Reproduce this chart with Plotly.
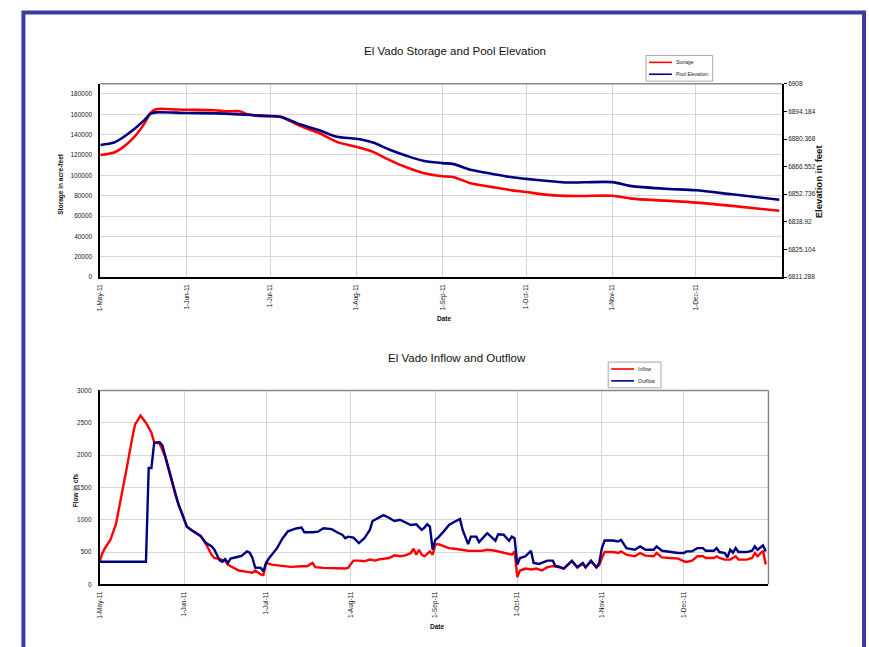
import plotly.graph_objects as go

# ---------------- data: top chart ----------------
storage_dates = ["2011-05-01", "2011-05-06", "2011-05-09", "2011-05-13", "2011-05-17", "2011-05-19",
                 "2011-05-21", "2011-05-26", "2011-06-01", "2011-06-11", "2011-06-15", "2011-06-20",
                 "2011-06-23", "2011-06-27", "2011-07-01", "2011-07-05", "2011-07-12", "2011-07-19",
                 "2011-07-25", "2011-08-01", "2011-08-07", "2011-08-13", "2011-08-19", "2011-08-25",
                 "2011-09-01", "2011-09-05", "2011-09-11", "2011-09-19", "2011-09-26", "2011-10-01",
                 "2011-10-07", "2011-10-15", "2011-10-22", "2011-11-01", "2011-11-08", "2011-11-20",
                 "2011-12-01", "2011-12-14", "2011-12-31"]
storage_af = [120000, 122500, 127300, 137000, 151600, 161300,
              165000, 165000, 164500, 164000, 163000, 163000,
              160000, 158500, 158500, 157500, 148400, 141200,
              132900, 128000, 123100, 115000, 107900, 102300,
              99100, 98200, 92300, 88400, 85200, 83600,
              81300, 79800, 79700, 79900, 77100, 75100,
              73200, 70000, 65100]

elev_dates = ["2011-05-01", "2011-05-06", "2011-05-09", "2011-05-13", "2011-05-17", "2011-05-19",
              "2011-05-21", "2011-06-01", "2011-06-15", "2011-06-22", "2011-06-27", "2011-07-01",
              "2011-07-05", "2011-07-12", "2011-07-19", "2011-07-25", "2011-08-01", "2011-08-07",
              "2011-08-13", "2011-08-19", "2011-08-25", "2011-09-01", "2011-09-05", "2011-09-11",
              "2011-09-19", "2011-09-26", "2011-10-01", "2011-10-07", "2011-10-15", "2011-10-22",
              "2011-11-01", "2011-11-08", "2011-11-20", "2011-12-01", "2011-12-14", "2011-12-31"]
elev_ft = [6877.4, 6878.6, 6881.0, 6885.1, 6890.1, 6892.9,
           6893.7, 6893.4, 6893.1, 6892.6, 6892.1, 6891.8,
           6891.4, 6887.6, 6884.6, 6881.5, 6880.5, 6878.6,
           6875.0, 6872.0, 6869.5, 6868.3, 6867.8, 6865.0,
           6862.9, 6861.2, 6860.4, 6859.6, 6858.6, 6858.7,
           6858.8, 6856.8, 6855.5, 6854.7, 6852.7, 6850.0]

# ---------------- data: bottom chart ----------------
outflow_dates = ["2011-05-01", "2011-05-18", "2011-05-19", "2011-05-20", "2011-05-21", "2011-05-23",
                 "2011-05-24", "2011-05-25", "2011-05-27", "2011-05-29", "2011-05-30", "2011-05-31",
                 "2011-06-02", "2011-06-04", "2011-06-07", "2011-06-09", "2011-06-11", "2011-06-12",
                 "2011-06-14", "2011-06-15", "2011-06-16", "2011-06-17", "2011-06-18", "2011-06-20",
                 "2011-06-22", "2011-06-24", "2011-06-25", "2011-06-26", "2011-06-27", "2011-06-29",
                 "2011-06-30", "2011-07-01", "2011-07-02", "2011-07-05", "2011-07-07", "2011-07-09",
                 "2011-07-12", "2011-07-14", "2011-07-15", "2011-07-18", "2011-07-20", "2011-07-22",
                 "2011-07-25", "2011-07-27", "2011-07-29", "2011-07-30", "2011-07-31", "2011-08-02",
                 "2011-08-04", "2011-08-06", "2011-08-08", "2011-08-09", "2011-08-11", "2011-08-13",
                 "2011-08-15", "2011-08-17", "2011-08-19", "2011-08-21", "2011-08-23", "2011-08-25",
                 "2011-08-27", "2011-08-28", "2011-08-29", "2011-08-30", "2011-08-31", "2011-09-01",
                 "2011-09-02", "2011-09-04", "2011-09-06", "2011-09-08", "2011-09-10", "2011-09-11",
                 "2011-09-13", "2011-09-14", "2011-09-16", "2011-09-17", "2011-09-20", "2011-09-23",
                 "2011-09-24", "2011-09-26", "2011-09-28", "2011-09-29", "2011-09-30", "2011-10-01",
                 "2011-10-02", "2011-10-04", "2011-10-06", "2011-10-07", "2011-10-09", "2011-10-12",
                 "2011-10-14", "2011-10-15", "2011-10-18", "2011-10-21", "2011-10-23", "2011-10-25",
                 "2011-10-26", "2011-10-28", "2011-10-30", "2011-10-31", "2011-11-01", "2011-11-02",
                 "2011-11-05", "2011-11-07", "2011-11-08", "2011-11-10", "2011-11-13", "2011-11-15",
                 "2011-11-17", "2011-11-20", "2011-11-21", "2011-11-23", "2011-11-26", "2011-11-29",
                 "2011-12-01", "2011-12-02", "2011-12-04", "2011-12-06", "2011-12-08", "2011-12-09",
                 "2011-12-12", "2011-12-13", "2011-12-14", "2011-12-16", "2011-12-17", "2011-12-18",
                 "2011-12-19", "2011-12-20", "2011-12-21", "2011-12-24", "2011-12-26", "2011-12-27",
                 "2011-12-28", "2011-12-30", "2011-12-31"]
outflow_cfs = [350, 350, 1800, 1800, 2190, 2200,
               2150, 1990, 1680, 1350, 1220, 1120,
               890, 830, 750, 640, 590, 540,
               370, 350, 390, 330, 400, 420,
               440, 510, 490, 410, 260, 255,
               205, 330, 400, 560, 710, 820,
               865, 878, 806, 806, 815, 867,
               855, 806, 765, 714, 738, 723,
               638, 714, 842, 980, 1020, 1071,
               1030, 980, 1000, 960, 918, 929,
               842, 878, 929, 893, 536, 690,
               723, 816, 918, 969, 1010, 842,
               623, 738, 738, 653, 791, 674,
               776, 768, 674, 738, 714, 306,
               408, 434, 520, 332, 316, 367,
               367, 281, 245, 367, 266, 332,
               266, 367, 266, 332, 561, 679,
               679, 663, 689, 561, 536, 587,
               536, 536, 587, 520, 500, 485,
               485, 510, 510, 561, 561, 520,
               520, 561, 500, 485, 418, 536,
               490, 561, 500, 500, 520, 587,
               536, 602, 510]

inflow_dates = ["2011-05-01", "2011-05-02", "2011-05-03", "2011-05-05", "2011-05-07", "2011-05-09",
                "2011-05-11", "2011-05-13", "2011-05-14", "2011-05-15", "2011-05-16", "2011-05-18",
                "2011-05-20", "2011-05-21", "2011-05-23", "2011-05-25", "2011-05-27", "2011-05-29",
                "2011-05-31", "2011-06-02", "2011-06-04", "2011-06-07", "2011-06-09", "2011-06-11",
                "2011-06-12", "2011-06-14", "2011-06-16", "2011-06-17", "2011-06-18", "2011-06-21",
                "2011-06-24", "2011-06-26", "2011-06-27", "2011-06-29", "2011-06-30", "2011-07-01",
                "2011-07-03", "2011-07-05", "2011-07-07", "2011-07-10", "2011-07-14", "2011-07-16",
                "2011-07-18", "2011-07-19", "2011-07-22", "2011-07-27", "2011-07-30", "2011-07-31",
                "2011-08-02", "2011-08-04", "2011-08-06", "2011-08-08", "2011-08-10", "2011-08-11",
                "2011-08-13", "2011-08-15", "2011-08-17", "2011-08-19", "2011-08-21", "2011-08-23",
                "2011-08-24", "2011-08-25", "2011-08-26", "2011-08-27", "2011-08-28", "2011-08-30",
                "2011-08-31", "2011-09-01", "2011-09-02", "2011-09-04", "2011-09-06", "2011-09-08",
                "2011-09-10", "2011-09-13", "2011-09-18", "2011-09-20", "2011-09-23", "2011-09-24",
                "2011-09-26", "2011-09-28", "2011-09-29", "2011-09-30", "2011-10-01", "2011-10-02",
                "2011-10-04", "2011-10-06", "2011-10-08", "2011-10-10", "2011-10-12", "2011-10-14",
                "2011-10-16", "2011-10-18", "2011-10-21", "2011-10-23", "2011-10-25", "2011-10-26",
                "2011-10-28", "2011-10-30", "2011-10-31", "2011-11-01", "2011-11-02", "2011-11-05",
                "2011-11-07", "2011-11-08", "2011-11-10", "2011-11-13", "2011-11-15", "2011-11-17",
                "2011-11-20", "2011-11-21", "2011-11-23", "2011-11-26", "2011-11-29", "2011-12-01",
                "2011-12-02", "2011-12-04", "2011-12-06", "2011-12-08", "2011-12-09", "2011-12-12",
                "2011-12-13", "2011-12-14", "2011-12-16", "2011-12-18", "2011-12-20", "2011-12-21",
                "2011-12-24", "2011-12-26", "2011-12-27", "2011-12-28", "2011-12-30", "2011-12-31"]
inflow_cfs = [350, 480, 560, 690, 930, 1400,
              1810, 2270, 2475, 2540, 2610, 2500,
              2347, 2200, 2180, 1980, 1680, 1350,
              1120, 890, 830, 750, 620, 459,
              408, 393, 363, 306, 281, 214,
              194, 179, 214, 153, 143, 332,
              306, 297, 281, 271, 281, 281,
              332, 266, 255, 245, 245, 255,
              367, 367, 357, 383, 367, 383,
              398, 408, 449, 434, 449, 485,
              551, 459, 535, 459, 434, 510,
              459, 612, 623, 587, 561, 551,
              535, 520, 518, 535, 520, 510,
              500, 479, 459, 510, 112, 214,
              245, 230, 245, 214, 266, 281,
              281, 240, 355, 260, 320, 260,
              355, 260, 300, 408, 500, 500,
              485, 510, 459, 434, 485, 444,
              434, 485, 418, 408, 398, 357,
              347, 367, 434, 434, 408, 408,
              434, 408, 383, 383, 434, 383,
              383, 408, 485, 434, 520, 306]

month_ticks = ["2011-05-01", "2011-06-01", "2011-07-01", "2011-08-01",
               "2011-09-01", "2011-10-01", "2011-11-01", "2011-12-01"]
month_labels = ["1-May-11", "1-Jun-11", "1-Jul-11", "1-Aug-11",
                "1-Sep-11", "1-Oct-11", "1-Nov-11", "1-Dec-11"]
storage_ticks = [0, 20000, 40000, 60000, 80000, 100000, 120000, 140000, 160000, 180000]
elev_ticks = [6811.288, 6825.104, 6838.92, 6852.736, 6866.552, 6880.368, 6894.184, 6908]
elev_labels = ["6811.288", "6825.104", "6838.92", "6852.736", "6866.552", "6880.368", "6894.184", "6908"]
flow_ticks = [0, 500, 1000, 1500, 2000, 2500, 3000]

# ---------------- figure ----------------
W, H = 869, 647
FONT = "Liberation Sans"
RED = "#ff0000"
NAVY = "#000080"
GRID = "#d6d6d6"

def px(x):
    return x / W

def py(y):
    return 1 - y / H

fig = go.Figure()

fig.add_trace(go.Scatter(x=storage_dates, y=storage_af, name="Storage", mode="lines",
                         line=dict(color=RED, width=2.6, shape="spline", smoothing=0.8),
                         xaxis="x", yaxis="y"))
fig.add_trace(go.Scatter(x=elev_dates, y=elev_ft, name="Pool Elevation", mode="lines",
                         line=dict(color=NAVY, width=2.6, shape="spline", smoothing=0.8),
                         xaxis="x", yaxis="y2"))
fig.add_trace(go.Scatter(x=inflow_dates, y=inflow_cfs, name="Inflow", mode="lines",
                         line=dict(color=RED, width=2.4),
                         xaxis="x2", yaxis="y3"))
fig.add_trace(go.Scatter(x=outflow_dates, y=outflow_cfs, name="Outflow", mode="lines",
                         line=dict(color=NAVY, width=2.4),
                         xaxis="x2", yaxis="y3"))

tickfont = dict(family=FONT, size=6.5, color="#222")
xcommon = dict(type="date", range=["2011-05-01", "2012-01-01"], tickvals=month_ticks,
               ticktext=month_labels, tickangle=-90, tickfont=tickfont,
               showgrid=True, gridcolor=GRID, gridwidth=1, showline=True,
               linecolor="black", linewidth=1.5, ticks="", zeroline=False,
               ticklabelstandoff=3)

fig.update_layout(
    width=W, height=H,
    margin=dict(l=0, r=0, t=0, b=0),
    paper_bgcolor="white", plot_bgcolor="white",
    font=dict(family=FONT, color="#222"),
    showlegend=False,
    xaxis=dict(xcommon, domain=[px(96.7), px(781.7)], anchor="y"),
    yaxis=dict(domain=[py(276), py(80.7)], range=[0, 190000], tickvals=storage_ticks,
               tickformat="d", tickfont=tickfont, showgrid=True, gridcolor=GRID, showline=True,
               linecolor="black", linewidth=1.5, zeroline=False, anchor="x",
               ticklabelstandoff=5),
    yaxis2=dict(overlaying="y", side="right", range=[6811.288, 6908], tickvals=elev_ticks,
                ticktext=elev_labels, tickfont=tickfont, showgrid=False, showline=True,
                linecolor="black", linewidth=1.5, ticks="outside", ticklen=3,
                tickcolor="black", zeroline=False, anchor="x"),
    xaxis2=dict(xcommon, domain=[px(96), px(768)], anchor="y3"),
    yaxis3=dict(domain=[py(586.7), py(390.7)], range=[0, 3000], tickvals=flow_ticks,
                tickformat="d", tickfont=tickfont, showgrid=True, gridcolor=GRID, showline=True,
                linecolor="black", linewidth=1.5, zeroline=False, anchor="x2",
                ticklabelstandoff=5),
)

shapes = []
# plot-area borders (grey top / right edges)
shapes.append(dict(type="line", xref="x domain", yref="y domain", x0=0, x1=1, y0=1, y1=1,
                   line=dict(color="#888888", width=1.5)))
shapes.append(dict(type="line", xref="x2 domain", yref="y3 domain", x0=0, x1=1, y0=1, y1=1,
                   line=dict(color="#888888", width=1.5)))
shapes.append(dict(type="line", xref="x2 domain", yref="y3 domain", x0=1, x1=1, y0=0, y1=1,
                   line=dict(color="#888888", width=1.5)))
# page frame
shapes.append(dict(type="rect", xref="paper", yref="paper", x0=px(19.5), x1=px(864), y0=-0.05,
                   y1=py(8.5), line=dict(color="#3b3ba3", width=4), fillcolor="rgba(0,0,0,0)",
                   layer="above"))

ann = []
# small legend boxes, drawn like the original spreadsheet legends
legends = [
    dict(box=(645, 52, 712, 78), rows=[("Storage", RED, 59), ("Pool Elevation", NAVY, 71)]),
    dict(box=(607, 362, 660, 388), rows=[("Inflow", RED, 369), ("Outflow", NAVY, 381)]),
]
for lg in legends:
    x0, y0, x1, y1 = lg["box"]
    shapes.append(dict(type="rect", xref="paper", yref="paper", x0=px(x0), x1=px(x1),
                       y0=py(y1), y1=py(y0), line=dict(color="#a8a8a8", width=1),
                       fillcolor="white", layer="above"))
    for label, col, yy in lg["rows"]:
        shapes.append(dict(type="line", xref="paper", yref="paper", x0=px(x0 + 3), x1=px(x0 + 26),
                           y0=py(yy), y1=py(yy), line=dict(color=col, width=1.6), layer="above"))
        ann.append(dict(text=label, x=px(x0 + 28), y=py(yy), xanchor="left",
                        font=dict(family=FONT, size=5, color="#222")))

ann.append(dict(text="El Vado Storage and Pool Elevation", x=px(453), y=py(48),
                font=dict(family=FONT, size=11.5, color="#111")))
ann.append(dict(text="El Vado Inflow and Outflow", x=px(455), y=py(358),
                font=dict(family=FONT, size=11.5, color="#111")))
ann.append(dict(text="<b>Storage in acre-feet</b>", x=px(57), y=py(182), textangle=-90,
                font=dict(family=FONT, size=6.5, color="#111")))
ann.append(dict(text="<b>Elevation in feet</b>", x=px(818), y=py(179), textangle=-90,
                font=dict(family=FONT, size=9.5, color="#111")))
ann.append(dict(text="<b>Date</b>", x=px(442), y=py(318),
                font=dict(family=FONT, size=6.5, color="#111")))
ann.append(dict(text="<b>Flow in cfs</b>", x=px(72), y=py(492), textangle=-90,
                font=dict(family=FONT, size=6.5, color="#111")))
ann.append(dict(text="<b>Date</b>", x=px(435), y=py(629),
                font=dict(family=FONT, size=6.5, color="#111")))
for a in ann:
    a.setdefault("xanchor", "center")
    a.update(xref="paper", yref="paper", showarrow=False, yanchor="middle")

fig.update_layout(shapes=shapes, annotations=ann)

# remove the browser's default page margin so the 869x647 figure fills the window exactly
fig.write_html("out.html",
               config={"displayModeBar": False},
               post_script="document.body.style.margin='0';"
                           "document.documentElement.style.overflow='hidden';")
